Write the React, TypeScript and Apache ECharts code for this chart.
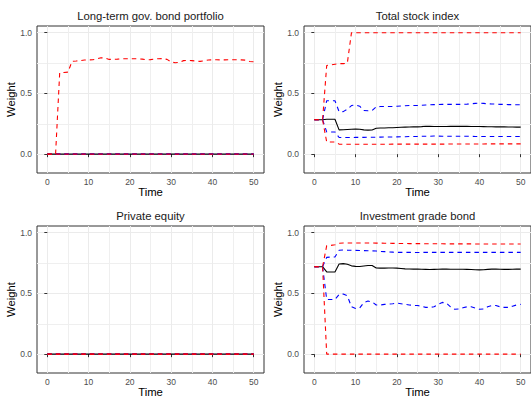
import React, { useEffect, useRef } from 'react';
import * as echarts from 'echarts';

const time = [
  0, 1, 2, 3, 4, 5, 6, 7, 8, 9, 10, 11, 12, 13, 14, 15, 16, 17, 18, 19, 20, 21, 22, 23, 24, 25,
  26, 27, 28, 29, 30, 31, 32, 33, 34, 35, 36, 37, 38, 39, 40, 41, 42, 43, 44, 45, 46, 47, 48, 49, 50,
];

const panelTitles = [
  'Long-term gov. bond portfolio',
  'Total stock index',
  'Private equity',
  'Investment grade bond',
];

const xTicks = [0, 10, 20, 30, 40, 50];
const xMinorTicks = [5, 15, 25, 35, 45];
const yTicks = [0, 0.5, 1];
const yMinorTicks = [0.25, 0.75];

const zeros = [
  0, 0, 0, 0, 0, 0, 0, 0, 0, 0,
  0, 0, 0, 0, 0, 0, 0, 0, 0, 0,
  0, 0, 0, 0, 0, 0, 0, 0, 0, 0,
  0, 0, 0, 0, 0, 0, 0, 0, 0, 0,
  0, 0, 0, 0, 0, 0, 0, 0, 0, 0,
  0,
];

// Long-term gov. bond portfolio
const govMean = zeros;
const govLow25 = zeros;
const govHigh75 = zeros;
const govLow05 = zeros;
const govHigh95 = [
  0, 0, 0, 0.67, 0.672, 0.675, 0.765, 0.767, 0.77, 0.775,
  0.776, 0.777, 0.785, 0.794, 0.79, 0.78, 0.78, 0.782, 0.786, 0.786,
  0.786, 0.786, 0.785, 0.782, 0.777, 0.778, 0.783, 0.786, 0.787, 0.78,
  0.758, 0.753, 0.755, 0.77, 0.771, 0.77, 0.767, 0.764, 0.768, 0.775,
  0.777, 0.777, 0.776, 0.776, 0.777, 0.777, 0.777, 0.776, 0.774, 0.763,
  0.76,
];

// Total stock index
const stockMean = [
  0.283, 0.283, 0.283, 0.288, 0.288, 0.288, 0.2, 0.201, 0.203, 0.205,
  0.206, 0.205, 0.2, 0.198, 0.199, 0.213, 0.215, 0.216, 0.217, 0.218,
  0.22, 0.222, 0.223, 0.224, 0.225, 0.225, 0.227, 0.23, 0.229, 0.228,
  0.228, 0.228, 0.228, 0.229, 0.229, 0.229, 0.229, 0.229, 0.228, 0.228,
  0.228, 0.227, 0.226, 0.226, 0.225, 0.225, 0.225, 0.224, 0.224, 0.223,
  0.223,
];
const stockHigh75 = [
  0.283, 0.283, 0.283, 0.44, 0.44, 0.44, 0.35, 0.35, 0.37, 0.4,
  0.405, 0.395, 0.36, 0.357, 0.36, 0.39, 0.392, 0.392, 0.392, 0.393,
  0.394, 0.397, 0.398, 0.4, 0.4, 0.4, 0.403, 0.405, 0.407, 0.408,
  0.408, 0.41, 0.41, 0.41, 0.41, 0.41, 0.41, 0.412, 0.415, 0.418,
  0.42, 0.418, 0.415, 0.413, 0.412, 0.41, 0.41, 0.408, 0.408, 0.407,
  0.407,
];
const stockLow25 = [
  0.283, 0.283, 0.283, 0.183, 0.183, 0.183, 0.137, 0.137, 0.137, 0.137,
  0.138, 0.138, 0.138, 0.139, 0.139, 0.14, 0.14, 0.141, 0.141, 0.142,
  0.142, 0.143, 0.144, 0.145, 0.146, 0.146, 0.147, 0.148, 0.148, 0.149,
  0.149, 0.148, 0.148, 0.147, 0.147, 0.147, 0.147, 0.147, 0.147, 0.146,
  0.146, 0.146, 0.146, 0.146, 0.146, 0.146, 0.146, 0.146, 0.146, 0.146,
  0.146,
];
const stockLow05 = [
  0.283, 0.283, 0.283, 0.1, 0.1, 0.1, 0.083, 0.082, 0.082, 0.082,
  0.082, 0.082, 0.082, 0.082, 0.082, 0.082, 0.082, 0.082, 0.082, 0.083,
  0.083, 0.083, 0.083, 0.083, 0.083, 0.083, 0.083, 0.083, 0.083, 0.083,
  0.083, 0.083, 0.083, 0.084, 0.084, 0.084, 0.084, 0.084, 0.084, 0.084,
  0.084, 0.084, 0.085, 0.085, 0.085, 0.085, 0.085, 0.085, 0.085, 0.085,
  0.085,
];
const stockHigh95 = [
  0.283, 0.283, 0.283, 0.73, 0.735, 0.74, 0.745, 0.745, 0.75, 1,
  1, 1, 1, 1, 1, 1, 1, 1, 1, 1,
  1, 1, 1, 1, 1, 1, 1, 1, 1, 1,
  1, 1, 1, 1, 1, 1, 1, 1, 1, 1,
  1, 1, 1, 1, 1, 1, 1, 1, 1, 1,
  1,
];

// Private equity
const peMean = zeros;
const peLow25 = zeros;
const peHigh75 = zeros;
const peLow05 = zeros;
const peHigh95 = zeros;

// Investment grade bond
const igMean = [
  0.72, 0.72, 0.72, 0.677, 0.676, 0.677, 0.742, 0.745, 0.74, 0.727,
  0.723, 0.722, 0.726, 0.73, 0.73, 0.709, 0.708, 0.708, 0.709, 0.709,
  0.708, 0.705, 0.702, 0.701, 0.7, 0.7, 0.699, 0.698, 0.697, 0.698,
  0.699, 0.7, 0.7, 0.699, 0.699, 0.699, 0.699, 0.698, 0.697, 0.695,
  0.694, 0.695, 0.698, 0.7, 0.7, 0.699, 0.698, 0.698, 0.699, 0.7,
  0.7,
];
const igHigh75 = [
  0.72, 0.72, 0.72, 0.797, 0.8, 0.8, 0.855, 0.857, 0.856, 0.855,
  0.854, 0.853, 0.852, 0.851, 0.85, 0.849, 0.846, 0.844, 0.842, 0.84,
  0.838, 0.838, 0.838, 0.838, 0.837, 0.837, 0.838, 0.838, 0.838, 0.838,
  0.838, 0.838, 0.838, 0.838, 0.838, 0.838, 0.838, 0.838, 0.838, 0.838,
  0.838, 0.838, 0.838, 0.838, 0.838, 0.838, 0.838, 0.838, 0.838, 0.838,
  0.838,
];
const igLow25 = [
  0.72, 0.72, 0.72, 0.45, 0.45, 0.45, 0.49, 0.495, 0.48, 0.39,
  0.376, 0.38, 0.425, 0.437, 0.43, 0.405, 0.405, 0.41, 0.412, 0.415,
  0.42, 0.415, 0.41, 0.405, 0.402, 0.4, 0.395, 0.385, 0.385, 0.39,
  0.41, 0.426, 0.42, 0.39, 0.37, 0.372, 0.382, 0.39, 0.39, 0.38,
  0.37, 0.372, 0.39, 0.4, 0.4, 0.39, 0.385, 0.385, 0.395, 0.405,
  0.41,
];
const igLow05 = [
  0.72, 0.72, 0.72, 0, 0, 0, 0, 0, 0, 0,
  0, 0, 0, 0, 0, 0, 0, 0, 0, 0,
  0, 0, 0, 0, 0, 0, 0, 0, 0, 0,
  0, 0, 0, 0, 0, 0, 0, 0, 0, 0,
  0, 0, 0, 0, 0, 0, 0, 0, 0, 0,
  0,
];
const igHigh95 = [
  0.72, 0.72, 0.72, 0.893, 0.895, 0.9, 0.913, 0.915, 0.915, 0.915,
  0.915, 0.915, 0.915, 0.915, 0.915, 0.914, 0.914, 0.913, 0.913, 0.912,
  0.912, 0.911, 0.911, 0.91, 0.91, 0.91, 0.91, 0.909, 0.909, 0.909,
  0.909, 0.909, 0.908, 0.908, 0.908, 0.908, 0.908, 0.908, 0.908, 0.907,
  0.907, 0.907, 0.907, 0.907, 0.907, 0.907, 0.907, 0.907, 0.907, 0.907,
  0.907,
];

const panelSeries = [
  [govMean, govLow25, govHigh75, govLow05, govHigh95],
  [stockMean, stockLow25, stockHigh75, stockLow05, stockHigh95],
  [peMean, peLow25, peHigh75, peLow05, peHigh95],
  [igMean, igLow25, igHigh75, igLow05, igHigh95],
];
const seriesNames = ['Mean', 'Lower quartile', 'Upper quartile', 'Lower 5%', 'Upper 5%'];
const seriesColors = ['#000000', '#0000FF', '#0000FF', '#FF0000', '#FF0000'];

const FONT = '"Liberation Sans", Arial, Helvetica, sans-serif';
const PANEL_W = 227;
const PANEL_H = 147;
const panelPos = [
  { left: 37, top: 26 },
  { left: 304, top: 26 },
  { left: 37, top: 226 },
  { left: 304, top: 226 },
];

export default function App() {
  const ref = useRef<HTMLDivElement>(null);

  useEffect(() => {
    if (!ref.current) return;
    const chart = echarts.init(ref.current, undefined, { renderer: 'svg' });

    const grid: any[] = [];
    const xAxis: any[] = [];
    const yAxis: any[] = [];
    const series: any[] = [];
    const graphic: any[] = [];

    panelPos.forEach((p, i) => {
      grid.push({
        left: p.left,
        top: p.top,
        width: PANEL_W,
        height: PANEL_H,
        show: true,
        borderColor: '#333333',
        borderWidth: 1,
        backgroundColor: 'transparent',
        containLabel: false,
      });
      xAxis.push({
        type: 'value',
        gridIndex: i,
        min: -2.5,
        max: 52.5,
        position: 'bottom',
        axisLine: { show: false },
        axisTick: { show: true, length: 3, lineStyle: { color: '#333333' }, customValues: xTicks },
        axisLabel: {
          customValues: xTicks,
          color: '#4D4D4D',
          fontSize: 8.5,
          fontFamily: FONT,
          margin: 4,
        },
        splitLine: { show: true, lineStyle: { color: '#EBEBEB', width: 1 } },
        name: 'Time',
        nameLocation: 'middle',
        nameGap: 13,
        nameTextStyle: { fontSize: 11.3, color: '#000000', fontFamily: FONT },
      });
      xAxis.push({
        type: 'value',
        gridIndex: i,
        min: -2.5,
        max: 52.5,
        position: 'top',
        axisLine: { show: false },
        axisTick: { show: false, customValues: xMinorTicks },
        axisLabel: { show: false },
        splitLine: { show: true, lineStyle: { color: '#EFEFEF', width: 1 } },
      });
      yAxis.push({
        type: 'value',
        gridIndex: i,
        min: -0.155,
        max: 1.055,
        position: 'left',
        axisLine: { show: false },
        axisTick: { show: true, length: 3, lineStyle: { color: '#333333' }, customValues: yTicks },
        axisLabel: {
          customValues: yTicks,
          color: '#4D4D4D',
          fontSize: 8.5,
          fontFamily: FONT,
          margin: 5,
          formatter: (v: number) => v.toFixed(1),
        },
        splitLine: { show: true, lineStyle: { color: '#EBEBEB', width: 1 } },
        name: 'Weight',
        nameLocation: 'middle',
        nameGap: 16,
        nameRotate: 90,
        nameTextStyle: { fontSize: 11.3, color: '#000000', fontFamily: FONT },
      });
      yAxis.push({
        type: 'value',
        gridIndex: i,
        min: -0.155,
        max: 1.055,
        position: 'right',
        axisLine: { show: false },
        axisTick: { show: false, customValues: yMinorTicks },
        axisLabel: { show: false },
        splitLine: { show: true, lineStyle: { color: '#EFEFEF', width: 1 } },
      });

      panelSeries[i].forEach((arr, k) => {
        series.push({
          type: 'line',
          name: seriesNames[k],
          xAxisIndex: i * 2,
          yAxisIndex: i * 2,
          data: time.map((t, j) => [t, arr[j]]),
          symbol: 'none',
          showSymbol: false,
          silent: true,
          z: 3 + k,
          lineStyle: {
            color: seriesColors[k],
            width: 1.1,
            type: k === 0 ? 'solid' : [4.5, 4],
          },
        });
      });

      graphic.push({
        type: 'text',
        x: p.left + PANEL_W / 2,
        y: p.top - 10.5,
        style: {
          text: panelTitles[i],
          fontSize: 11.3,
          fontFamily: FONT,
          fill: '#1A1A1A',
          align: 'center',
          verticalAlign: 'middle',
        },
      });
    });

    chart.setOption({
      animation: false,
      backgroundColor: '#FFFFFF',
      grid,
      xAxis,
      yAxis,
      series,
      graphic,
    });

    return () => {
      chart.dispose();
    };
  }, []);

  return (
    <div
      ref={ref}
      style={{ position: 'fixed', left: 0, top: 0, width: 531, height: 401 }}
    />
  );
}
